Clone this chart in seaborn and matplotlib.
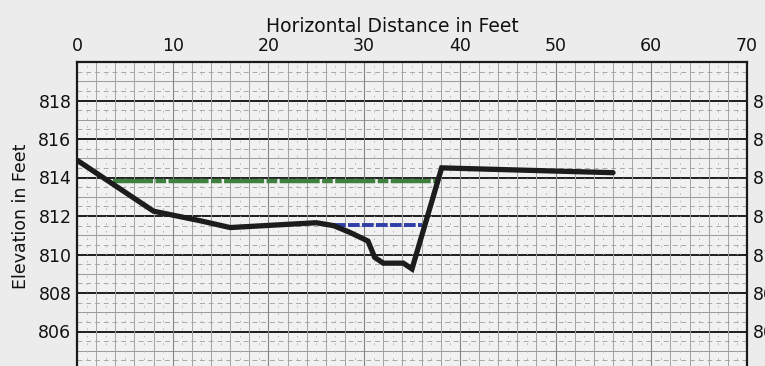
import numpy as np
import pandas as pd
import matplotlib
matplotlib.use('Agg')
import matplotlib.pyplot as plt
import seaborn as sns

# ground profile (ft, elevation ft)
ground_x = [0, 8, 12.9, 16, 25, 26.8, 28.5, 30.4, 31.1, 32.0, 34.1, 35.0, 38.1, 56.0]
ground_y = [814.9, 812.25, 811.75, 811.4, 811.65, 811.5, 811.15, 810.7, 809.85, 809.55, 809.55, 809.25, 814.5, 814.25]

# water surface lines
green_x = [3.8, 37.6]
green_y = [813.8, 813.8]
blue_x = [26.8, 36.0]
blue_y = [811.55, 811.55]

x_ticks = [0, 10, 20, 30, 40, 50, 60, 70]
y_ticks = [806, 808, 810, 812, 814, 816, 818]

sns.set_style('white')
plt.rcParams['font.family'] = ['DejaVu Sans']

fig = plt.figure(figsize=(7.65, 3.66), dpi=100, facecolor='#ececec')
ax = fig.add_axes([77 / 765, -4 / 366, 670 / 765, 308 / 366])
ax.set_facecolor('#f1f1f1')

ax.set_xlim(0, 70)
ax.set_ylim(804, 820)

# graph-paper grid
for yy in np.arange(804.5, 820, 1.0):
    ax.axhline(yy, color='#a8a8a8', lw=0.7, ls=(0, (5, 4)), zorder=1)
for yy in np.arange(805, 820, 2):
    ax.axhline(yy, color='#9a9a9a', lw=0.7, zorder=1)
for yy in np.arange(806, 820, 2):
    ax.axhline(yy, color='#1e1e1e', lw=1.4, zorder=1)
for xx in np.arange(1, 70, 2):
    ax.axvline(xx, color='#b4b4b4', lw=0.6, ls=(0, (2, 7)), zorder=1)
for xx in np.arange(2, 70, 2):
    ax.axvline(xx, color='#a2a2a2', lw=0.7, zorder=1)
for xx in np.arange(10, 70, 10):
    ax.axvline(xx, color='#858585', lw=0.8, zorder=1)

ground = pd.DataFrame({'x': ground_x, 'y': ground_y})
sns.lineplot(data=ground, x='x', y='y', sort=False, color='#1c1c1c', lw=3.8,
             solid_joinstyle='miter', ax=ax, zorder=5)
sns.lineplot(x=green_x, y=green_y, color='#3f7f3f', lw=3.2, ax=ax, zorder=4)
ax.lines[-1].set_dashes([9, 0.55, 2.4, 0.55])
sns.lineplot(x=blue_x, y=blue_y, color='#2f3fa8', lw=2.8, ax=ax, zorder=4)
ax.lines[-1].set_dashes([3, 0.6])

ax.set_xticks(x_ticks)
ax.set_yticks(y_ticks)
ax.tick_params(axis='x', top=True, bottom=False, labeltop=True, labelbottom=False,
               length=0, pad=5, labelsize=12.5, labelcolor='#111111')
ax.tick_params(axis='y', left=False, right=False, labelleft=True, labelright=True,
               length=0, pad=4, labelsize=12.5, labelcolor='#111111')
ax.set_xlabel('')
ax.set_ylabel('Elevation in Feet', fontsize=12.5, labelpad=6, color='#111111')
ax.text(33.0, 1.085, 'Horizontal Distance in Feet', transform=ax.get_xaxis_transform(),
        ha='center', va='bottom', fontsize=13.5, color='#111111')

for side in ['top', 'left', 'right']:
    ax.spines[side].set_color('#1a1a1a')
    ax.spines[side].set_linewidth(1.6)
ax.spines['bottom'].set_visible(False)

fig.savefig('out.png', dpi=100, facecolor=fig.get_facecolor())
